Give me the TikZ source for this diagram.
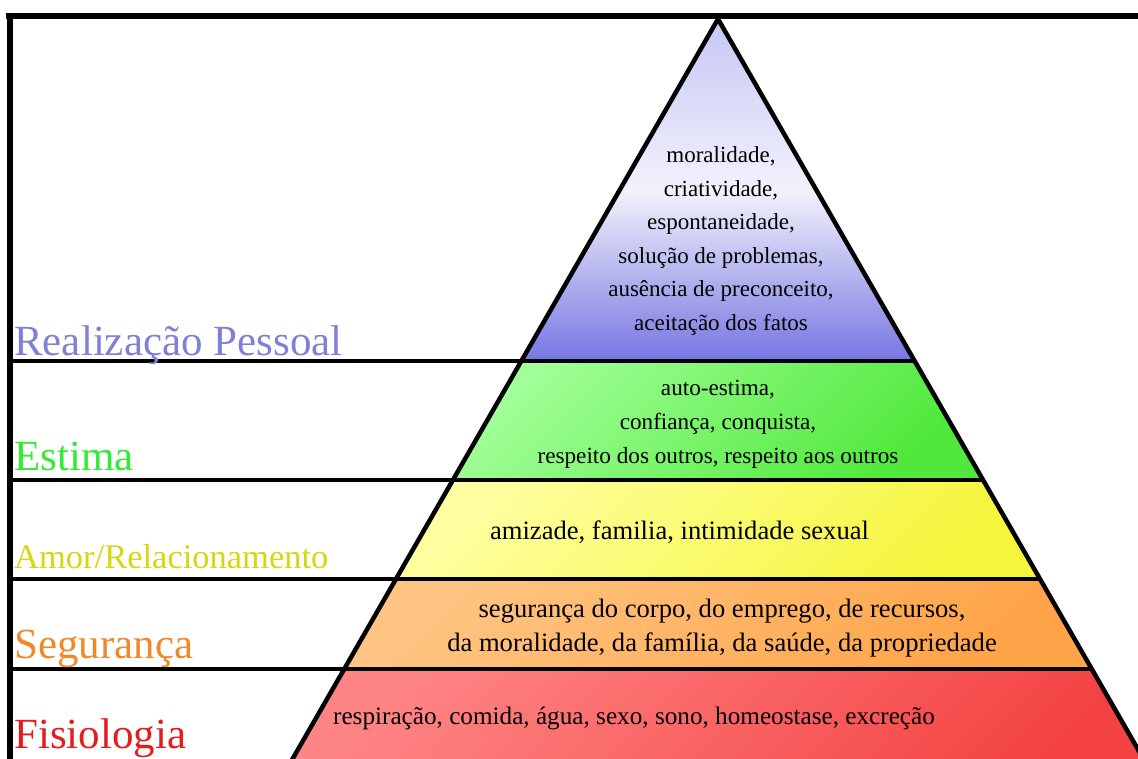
\documentclass[tikz,border=0pt]{standalone}
\usepackage{xcolor}
\usepackage{fontspec}
\setmainfont{Liberation Serif}
\usepackage{tikz}
\usetikzlibrary{calc}

\definecolor{realcol}{RGB}{128,128,216}
\definecolor{estcol}{RGB}{50,235,50}
\definecolor{amorcol}{RGB}{215,215,15}
\definecolor{segcol}{RGB}{238,138,44}
\definecolor{fiscol}{RGB}{230,28,28}

\tikzset{
  levelname/.style={anchor=base west, inner sep=0, font=\fontsize{43}{45}\selectfont},
  needs/.style={align=center, inner sep=0, font=\fontsize{23}{33.5}\selectfont},
  bigneeds/.style={needs, font=\fontsize{26.6}{34}\selectfont},
  layerline/.style={black, line width=4pt},
}
% half width of the pyramid at height y
\newcommand{\hw}[1]{0.575*(#1-19)}

\begin{document}
\begin{tikzpicture}[x=1pt, y=-1pt]
\useasboundingbox (0,0) rectangle (1138,758);
\clip (0,0) rectangle (1138,758);
\fill[white] (0,0) rectangle (1138,758);

% top triangle
\shade[top color={rgb,255:red,198;green,198;blue,246}, bottom color={rgb,255:red,118;green,118;blue,226},
  middle color={rgb,255:red,242;green,242;blue,252}]
  (718,19) -- ({718+\hw{361}},361) -- ({718-\hw{361}},361) -- cycle;

% the other layers
\foreach \ya/\yb/\ca/\cb in {361/480/{rgb,255:red,160;green,255;blue,150}/{rgb,255:red,80;green,232;blue,60},
  480/579/{rgb,255:red,255;green,255;blue,160}/{rgb,255:red,245;green,245;blue,60},
  579/669/{rgb,255:red,255;green,196;blue,130}/{rgb,255:red,255;green,164;blue,72},
  669/790/{rgb,255:red,255;green,132;blue,132}/{rgb,255:red,244;green,66;blue,66}} {
 \shade[top color=\ca, bottom color=\cb, shading angle=45]
  ({718-\hw{\ya}},\ya) -- ({718+\hw{\ya}},\ya) -- ({718+\hw{\yb}},\yb) -- ({718-\hw{\yb}},\yb) -- cycle;
}

% level lines
\foreach \y in {361,480,579,669} {
 \draw[layerline] (10,\y) -- ({718+\hw{\y}},\y);
}
\draw[black, line width=4.5pt, line join=miter] ({718-\hw{790}},790) -- (718,19) -- ({718+\hw{790}},790);

% frame
\draw[black, line width=6pt] (6,16) -- (1140,16);
\draw[black, line width=6pt] (9.5,13) -- (9.5,760);

% level names
\node[levelname, text=realcol] (real) at (14,355) {Realização Pessoal};
\node[levelname, text=estcol] (est) at (14,470) {Estima};
\node[levelname, text=amorcol, font=\fontsize{34.5}{36}\selectfont] (amor) at (14,568) {Amor/Relacionamento};
\node[levelname, text=segcol] (seg) at (14,658) {Segurança};
\node[levelname, text=fiscol] (fis) at (14,748) {Fisiologia};

% needs
\node[needs] (realtxt) at (721,241) {moralidade,\\criatividade,\\espontaneidade,\\solução de problemas,\\ausência de preconceito,\\aceitação dos fatos};
\node[needs, font=\fontsize{23.2}{34}\selectfont] (esttxt) at (718,424) {auto-estima,\\confiança, conquista,\\respeito dos outros, respeito aos outros};
\node[bigneeds, anchor=base] (amortxt) at (679.5,539) {amizade, familia, intimidade sexual};
\node[bigneeds] (segtxt) at (722,628) {segurança do corpo, do emprego, de recursos,\\da moralidade, da família, da saúde, da propriedade};
\node[needs, font=\fontsize{25.2}{34}\selectfont, anchor=base] (fistxt) at (634,724) {respiração, comida, água, sexo, sono, homeostase, excreção};
\end{tikzpicture}
\end{document}
